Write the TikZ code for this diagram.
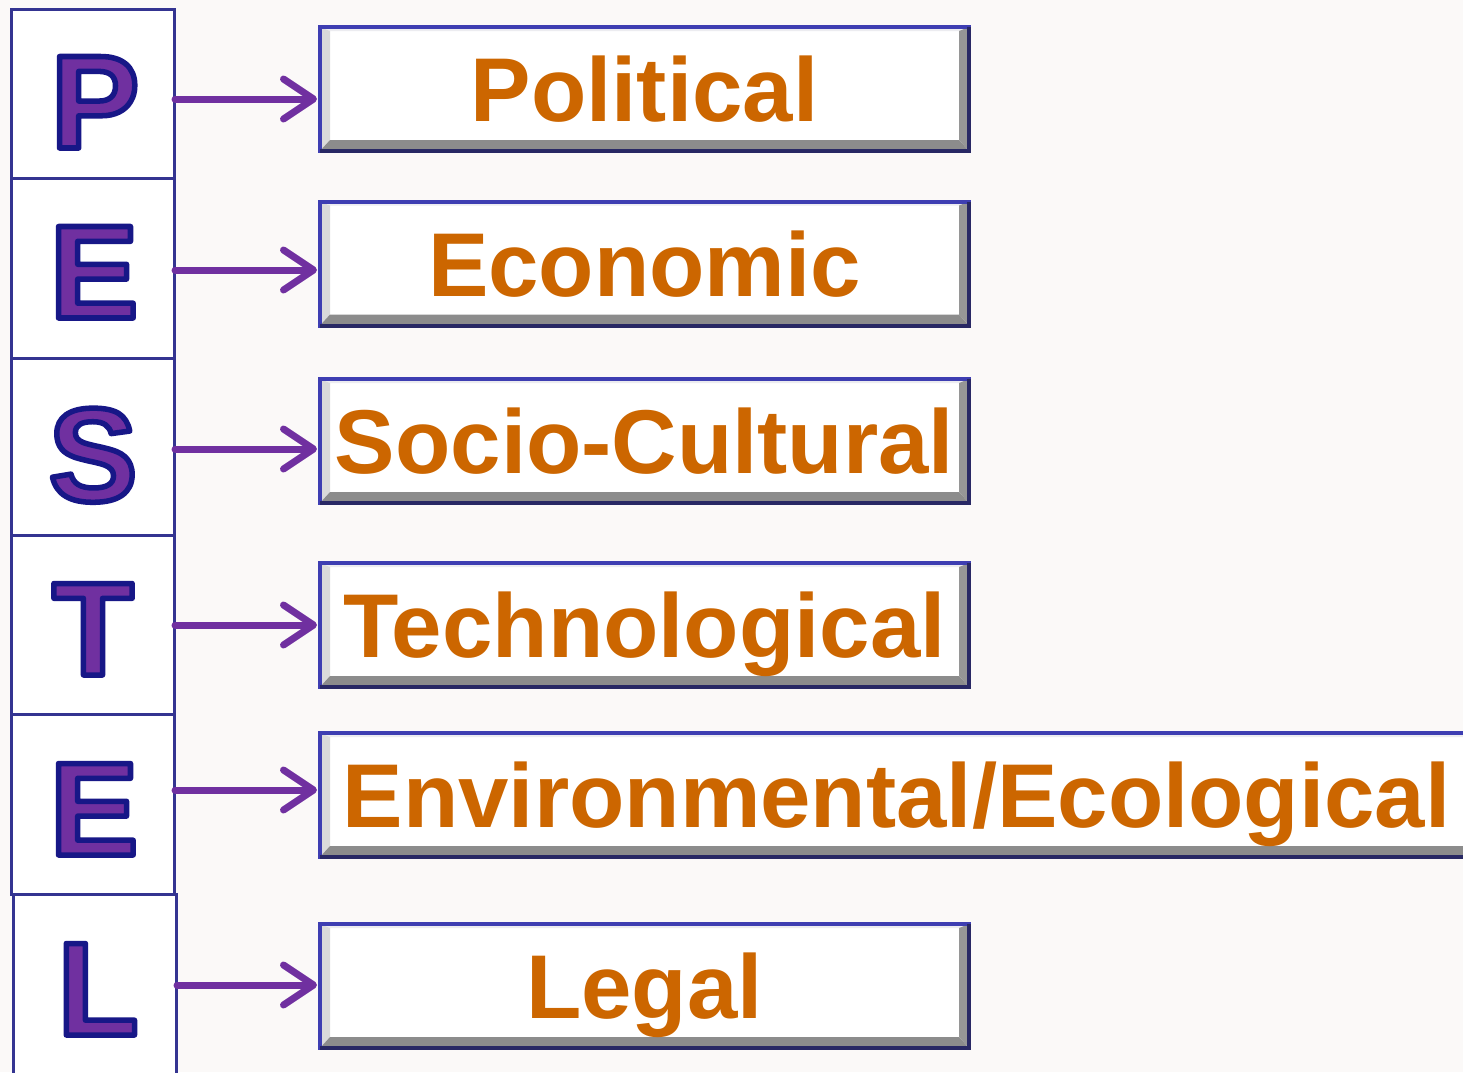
\documentclass[tikz,border=0pt]{standalone}
\usepackage{fontspec}
\setmainfont{Liberation Sans}
\usetikzlibrary{arrows.meta}

\definecolor{pagebg}{RGB}{251,249,248}
\definecolor{frameblue}{RGB}{52,52,145}
\definecolor{edgelight}{RGB}{62,62,178}
\definecolor{edgedark}{RGB}{40,40,100}
\definecolor{letterfill}{RGB}{112,48,160}
\definecolor{labelorange}{RGB}{204,102,0}
\definecolor{bevlight}{RGB}{218,218,218}
\definecolor{bevdark}{RGB}{140,140,140}
\definecolor{bevright}{RGB}{150,150,150}
\definecolor{bevtop}{RGB}{236,236,240}

% outlined glyph: filled in the current colour, stroked in navy
\newcommand\outlined[1]{%
  \special{pdf:literal direct 2 Tr 5.5 w 1 j 0.09 0.09 0.53 RG}#1%
  \special{pdf:literal direct 0 Tr}}

\tikzset{
  cell/.style={draw=frameblue, line width=3pt, fill=white, inner sep=0pt,
    outer sep=0pt, minimum width=163pt},
  letter/.style={anchor=base, inner sep=0pt, text=letterfill,
    font=\bfseries\fontsize{133pt}{133pt}\selectfont},
  factor/.style={draw=edgelight, line width=4pt, fill=white, inner sep=0pt,
    outer sep=0pt, minimum height=124pt, text=labelorange,
    font=\bfseries\fontsize{90.6pt}{90.6pt}\selectfont,
    text height=65pt, text depth=0pt,
    path picture={
      \path (path picture bounding box.south west) coordinate (bsw)
            (path picture bounding box.north east) coordinate (bne);
      % top bevel
      \fill[bevtop] (bsw |- bne) -- (bne) -- ([shift={(-10pt,-4pt)}]bne)
        -- ([shift={(10pt,-4pt)}]bsw |- bne) -- cycle;
      % left bevel
      \fill[bevlight] (bsw) -- ([shift={(10pt,11pt)}]bsw)
        -- ([shift={(10pt,-4pt)}]bsw |- bne) -- (bsw |- bne) -- cycle;
      % bottom bevel
      \fill[bevdark] (bsw) -- (bne |- bsw) -- ([shift={(-10pt,11pt)}]bne |- bsw)
        -- ([shift={(10pt,11pt)}]bsw) -- cycle;
      % right bevel
      \fill[bevright] (bne |- bsw) -- (bne) -- ([shift={(-10pt,-4pt)}]bne)
        -- ([shift={(-10pt,11pt)}]bne |- bsw) -- cycle;
    }},
  shadeedge/.style={draw=edgedark, line width=4pt, line cap=square},
  link/.style={line width=7pt, draw=letterfill, line cap=round,
    -{Straight Barb[length=30pt,width=40pt,round]}},
}

\begin{document}
\begin{tikzpicture}[x=1pt, y=-1pt]
  \fill[pagebg] (0,0) rectangle (1463,1072);
  \useasboundingbox (0,0) rectangle (1463,1072);

  % left column of letter cells
  \node[cell, minimum height=169pt] (cP)  at (92.5,93.5)  {};
  \node[cell, minimum height=180pt] (cE1) at (92.5,268)   {};
  \node[cell, minimum height=177pt] (cS)  at (92.5,446.5) {};
  \node[cell, minimum height=179pt] (cT)  at (92.5,624.5) {};
  \node[cell, minimum height=180pt] (cE2) at (92.5,804)   {};
  \node[cell, minimum height=191pt] (cL)  at (94.5,989.5) {};

  % letters
  \node[letter] (lP)  at (95,148)  {\outlined{P}};
  \node[letter] (lE1) at (94,318)  {\outlined{E}};
  \node[letter] (lS)  at (93,501)  {\outlined{S}};
  \node[letter] (lT)  at (93,675)  {\outlined{T}};
  \node[letter] (lE2) at (94,855)  {\outlined{E}};
  \node[letter] (lL)  at (98,1035) {\outlined{L}};

  % factor boxes
  \node[factor, minimum width=649pt]  (fP)  at (644.5,89)  {Political};
  \node[factor, minimum width=649pt]  (fE1) at (644.5,263.5) {Economic};
  \node[factor, minimum width=649pt]  (fS)  at (644.5,441) {Socio-Cultural};
  \node[factor, minimum width=649pt]  (fT)  at (644.5,625) {Technological};
  \node[factor, minimum width=1153pt] (fE2) at (896.5,795) {Environmental/Ecological};
  \node[factor, minimum width=649pt]  (fL)  at (644.5,986) {Legal};

  % darker lower and right frame edges
  \foreach \k in {P,E1,S,T,E2,L}
    \draw[shadeedge] (f\k.south west) -- (f\k.south east) -- (f\k.north east);

  % arrow heights
  \coordinate (hP)  at (0,99);
  \coordinate (hE1) at (0,270);
  \coordinate (hS)  at (0,449);
  \coordinate (hT)  at (0,625);
  \coordinate (hE2) at (0,790);
  \coordinate (hL)  at (0,985);

  \foreach \k in {P,E1,S,T,E2,L}
    \draw[link] ([xshift=1pt]c\k.east |- h\k) -- ([xshift=-3pt]f\k.west |- h\k);
\end{tikzpicture}
\end{document}
